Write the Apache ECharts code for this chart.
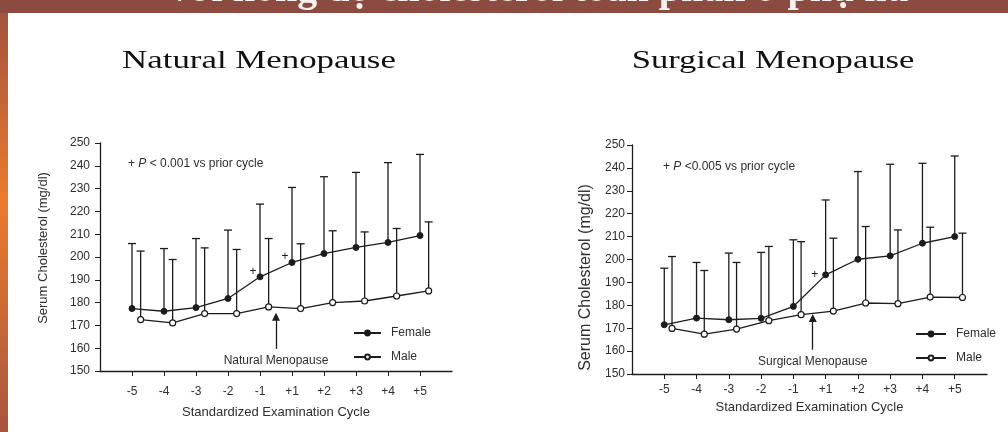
<!DOCTYPE html>
<html><head><meta charset="utf-8">
<script src="https://cdn.jsdelivr.net/npm/echarts@6/dist/echarts.min.js"></script>
<style>html,body{margin:0;padding:0;background:#fff}#c{width:1008px;height:432px}</style>
</head><body><div id="c"></div>
<script>
// ---- data ----
const cycles = ['-5','-4','-3','-2','-1','+1','+2','+3','+4','+5'];
const natFemaleMean  = [177.4, 176.2, 177.8, 181.8, 191.3, 197.6, 201.5, 204.2, 206.4, 209.4];
const natFemaleUpper = [205.9, 203.7, 208.1, 211.8, 223.2, 230.5, 235.2, 237.1, 241.4, 245.0];
const natMaleMean    = [172.5, 171.1, 175.2, 175.2, 178.1, 177.4, 180.0, 180.7, 182.9, 185.1];
const natMaleUpper   = [202.6, 198.9, 204.0, 203.3, 208.1, 205.8, 211.5, 211.0, 212.5, 215.4];
const natSig         = ['', '', '', '', '+', '+', '', '', '', ''];
const surFemaleMean  = [171.5, 174.4, 173.7, 174.3, 179.5, 193.3, 200.1, 201.6, 207.1, 210.0];
const surFemaleUpper = [196.2, 198.7, 202.8, 203.1, 208.6, 226.0, 238.4, 241.6, 242.0, 245.2];
const surMaleMean    = [169.9, 167.4, 169.6, 173.3, 175.9, 177.5, 181.0, 180.7, 183.6, 183.4];
const surMaleUpper   = [201.3, 195.2, 198.7, 205.7, 207.8, 209.3, 214.4, 212.9, 214.1, 211.5];
const surSig         = ['', '', '', '', '', '+', '', '', '', ''];
const natArrow = [4.5, 159.7, 173.8];   // x position (between -1 and +1), from, to
const surArrow = [4.6, 160.6, 174.5];
const chartTitles = ['Natural Menopause', 'Surgical Menopause'];
const pNotes = ['< 0.001 vs prior cycle', '<0.005 vs prior cycle'];

// ---- styling ----
const SANS = '"Liberation Sans", Arial, sans-serif';
const SERIF = '"Liberation Serif", "Times New Roman", serif';
const INK = '#1c1c1c';
const TXT = '#2e2e2e';
const tickIdx = cycles.map((_, i) => i);

function errSeries(gi, mean, upper, shift) {
  return {
    type: 'custom', xAxisIndex: gi, yAxisIndex: gi, silent: true, z: 1,
    data: mean.map((m, i) => [i + shift, m, upper[i]]),
    encode: { x: 0, y: [1, 2] },
    renderItem(params, api) {
      const p0 = api.coord([api.value(0), api.value(1)]);
      const p1 = api.coord([api.value(0), api.value(2)]);
      const st = { stroke: INK, lineWidth: 1.3 };
      return { type: 'group', children: [
        { type: 'line', shape: { x1: p0[0], y1: p0[1], x2: p1[0], y2: p1[1] }, style: st },
        { type: 'line', shape: { x1: p1[0] - 4, y1: p1[1], x2: p1[0] + 4, y2: p1[1] }, style: st }
      ]};
    }
  };
}
function lineSeries(name, gi, mean, shift, filled, sig, sigPos, arrow, arrowText) {
  const s = {
    type: 'line', name, xAxisIndex: gi, yAxisIndex: gi, z: 3,
    data: mean.map((m, i) => [i + shift, m]),
    symbol: 'circle', symbolSize: 6, showAllSymbol: true,
    lineStyle: { color: INK, width: 1.3 },
    itemStyle: filled ? { color: INK, borderColor: INK, borderWidth: 1 }
                      : { color: '#fff', borderColor: INK, borderWidth: 1.2 },
    label: sig ? { show: true, formatter: p => sig[p.dataIndex], position: sigPos,
                   fontSize: 12, color: INK, fontFamily: SANS } : { show: false },
    emphasis: { disabled: true }
  };
  if (arrow) {
    s.markLine = {
      silent: true, symbol: ['none', 'triangle'], symbolSize: 8, animation: false,
      lineStyle: { color: INK, width: 1.3, type: 'solid' },
      label: { show: true, position: 'start', formatter: arrowText, distance: 6,
               fontSize: 12, color: TXT, fontFamily: SANS },
      data: [[{ coord: [arrow[0], arrow[1]] }, { coord: [arrow[0], arrow[2]] }]]
    };
  }
  return s;
}
function mkX(gi, margin, nameGap) {
  return {
    type: 'value', gridIndex: gi, min: -1, max: 10,
    axisLine: { show: true, onZero: false, lineStyle: { color: INK, width: 1.3 } },
    axisTick: { show: true, customValues: tickIdx, length: 5, lineStyle: { color: INK } },
    axisLabel: { customValues: tickIdx, formatter: v => cycles[Math.round(v)], margin,
                 fontSize: 12, color: TXT, fontFamily: SANS },
    splitLine: { show: false },
    name: 'Standardized Examination Cycle', nameLocation: 'middle', nameGap,
    nameTextStyle: { fontSize: 13, color: TXT, fontFamily: SANS }
  };
}
function mkY(gi, margin, nameGap, nameSize, pad) {
  return {
    type: 'value', gridIndex: gi, min: 150, max: 250, interval: 10,
    axisLine: { show: true, onZero: false, lineStyle: { color: INK, width: 1.3 } },
    axisTick: { show: true, length: 5, lineStyle: { color: INK } },
    axisLabel: { margin, fontSize: 12, color: TXT, fontFamily: SANS },
    splitLine: { show: false },
    name: 'Serum Cholesterol (mg/dl)', nameLocation: 'middle', nameGap,
    nameTextStyle: { fontSize: nameSize, color: TXT, fontFamily: SANS, padding: pad }
  };
}
function pTitle(left, top, note) {
  return {
    left, top, padding: 0,
    text: '{n|+ }{i|P}{n| ' + note + '}',
    textStyle: { fontWeight: 'normal', rich: {
      n: { fontSize: 12, color: TXT, fontFamily: SANS, fontWeight: 'normal' },
      i: { fontSize: 12, color: TXT, fontFamily: SANS, fontStyle: 'italic', fontWeight: 'normal' }
    } }
  };
}
const legendBase = {
  data: ['Female', 'Male'], orient: 'vertical', itemHeight: 6, itemGap: 12, padding: 0,
  selectedMode: false,
  textStyle: { fontSize: 12, color: TXT, fontFamily: SANS, padding: [0, 0, 0, 5] }
};

const option = {
  animation: false,
  backgroundColor: '#fff',
  grid: [
    { left: 100, right: 556, top: 143, bottom: 61 },
    { left: 632, right: 21, top: 145, bottom: 58 }
  ],
  xAxis: [mkX(0, 15, 35), mkX(1, 10, 26)],
  yAxis: [mkY(0, 10, 50, 13, [0, 0, 0, 18]), mkY(1, 7, 38, 16, [0, 36, 0, 0])],
  title: [pTitle(128, 158, pNotes[0]), pTitle(663, 161, pNotes[1])],
  legend: [
    Object.assign({}, legendBase, { left: 353, top: 327, itemWidth: 27 }),
    Object.assign({}, legendBase, { left: 915, top: 328, itemWidth: 30 })
  ],
  graphic: [
    { type: 'rect', shape: { x: 0, y: 0, width: 1008, height: 13 }, style: { fill: '#8C4B40' }, silent: true },
    { type: 'rect', shape: { x: 0, y: 13, width: 8, height: 419 }, silent: true,
      style: { fill: new echarts.graphic.LinearGradient(0, 0, 0, 1, [
        { offset: 0, color: '#A4533E' }, { offset: 0.45, color: '#EB7B2E' }, { offset: 1, color: '#A8553F' }]) } },
    { type: 'text', x: 540, y: -9, silent: true,
      style: { text: 'với nồng độ cholesterol toàn phần ở phụ nữ', fill: '#f6f0ec',
               font: 'bold 40px ' + SERIF, textAlign: 'center', textVerticalAlign: 'middle' } },
    { type: 'text', x: 259, y: 61, scaleX: 1.34, silent: true,
      style: { text: chartTitles[0], fill: '#111', font: '26px ' + SERIF, textAlign: 'center', textVerticalAlign: 'middle' } },
    { type: 'text', x: 773, y: 61, scaleX: 1.33, silent: true,
      style: { text: chartTitles[1], fill: '#111', font: '26px ' + SERIF, textAlign: 'center', textVerticalAlign: 'middle' } }
  ],
  series: [
    errSeries(0, natFemaleMean, natFemaleUpper, 0),
    errSeries(0, natMaleMean, natMaleUpper, 0.27),
    lineSeries('Female', 0, natFemaleMean, 0, true, natSig, [-7, -8], natArrow, 'Natural Menopause'),
    lineSeries('Male', 0, natMaleMean, 0.27, false),
    errSeries(1, surFemaleMean, surFemaleUpper, 0),
    errSeries(1, surMaleMean, surMaleUpper, 0.24),
    lineSeries('Female', 1, surFemaleMean, 0, true, surSig, [-11, -3], surArrow, 'Surgical Menopause'),
    lineSeries('Male', 1, surMaleMean, 0.24, false)
  ]
};
const chart = echarts.init(document.getElementById('c'));
chart.setOption(option);
</script></body></html>
